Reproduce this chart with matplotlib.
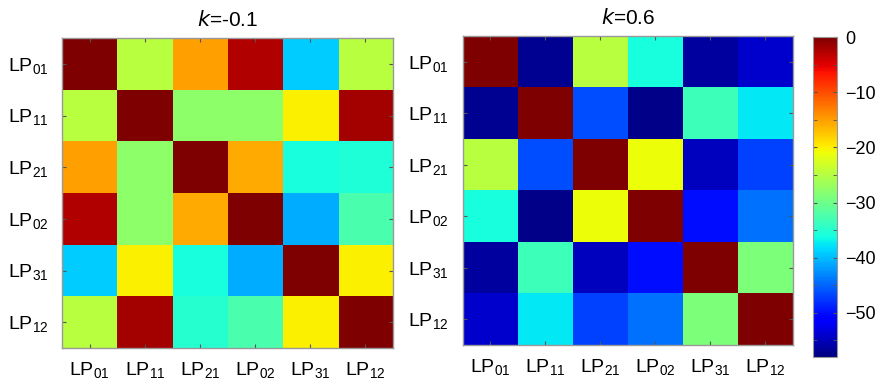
import matplotlib.pyplot as plt
import numpy as np

plt.rcParams['font.family'] = ['Liberation Sans', 'DejaVu Sans']

modes = ['01', '11', '21', '02', '31', '12']
labels = ['LP$_{\\mathregular{%s}}$' % m for m in modes]

# crosstalk (dB) between modes, k=-0.1
xt_k1 = [
    [0.0, -24.7, -15.0, -2.5, -39.0, -24.7],
    [-24.7, 0.0, -27.8, -27.8, -20.0, -2.0],
    [-15.0, -27.8, 0.0, -15.8, -35.8, -35.5],
    [-2.5, -27.8, -15.8, 0.0, -41.0, -32.5],
    [-39.0, -20.0, -35.8, -41.0, 0.0, -20.0],
    [-24.7, -2.0, -35.0, -32.5, -20.0, 0.0],
]

# crosstalk (dB) between modes, k=0.6
xt_k2 = [
    [0.0, -57.0, -24.7, -36.0, -56.4, -54.0],
    [-57.0, 0.0, -46.4, -57.5, -33.4, -37.5],
    [-24.7, -46.4, 0.0, -20.9, -54.8, -47.0],
    [-36.0, -57.5, -20.9, 0.0, -49.9, -44.4],
    [-56.4, -33.4, -54.8, -49.9, 0.0, -29.0],
    [-54.0, -37.5, -47.0, -44.4, -29.0, 0.0],
]

titles = ['$\\mathit{k}$=-0.1', '$\\mathit{k}$=0.6']
vmin, vmax = -58, 0

fig = plt.figure(figsize=(8.75, 3.86), dpi=100)
ax1 = fig.add_axes([0.0709, 0.0984, 0.3783, 0.803])
ax2 = fig.add_axes([0.529, 0.106, 0.377, 0.8005])
cax = fig.add_axes([0.929, 0.075, 0.0274, 0.829])

for ax, data, title in zip([ax1, ax2], [xt_k1, xt_k2], titles):
    im = ax.imshow(np.array(data), cmap='jet', vmin=vmin, vmax=vmax,
                   aspect='auto', interpolation='nearest')
    ax.set_xticks(range(len(modes)))
    ax.set_yticks(range(len(modes)))
    ax.set_xticklabels(labels, fontsize=14)
    ax.set_yticklabels(labels, fontsize=14)
    ax.tick_params(direction='in', length=3, color='#555555',
                   top=True, right=True, pad=10)
    ax.tick_params(axis='x', pad=9)
    for s in ax.spines.values():
        s.set_color('#999999')
        s.set_linewidth(1)
    ax.set_title(title, fontsize=15, pad=9)

cb = fig.colorbar(im, cax=cax)
cb.set_ticks([0, -10, -20, -30, -40, -50])
cb.ax.set_yticks(np.arange(-55, 0, 5), minor=True)
cb.ax.tick_params(which='both', direction='in', length=3, color='#555555',
                  left=True, right=True, labelsize=13, pad=6)
cb.outline.set_edgecolor('#999999')

plt.savefig('out.png', dpi=100)
